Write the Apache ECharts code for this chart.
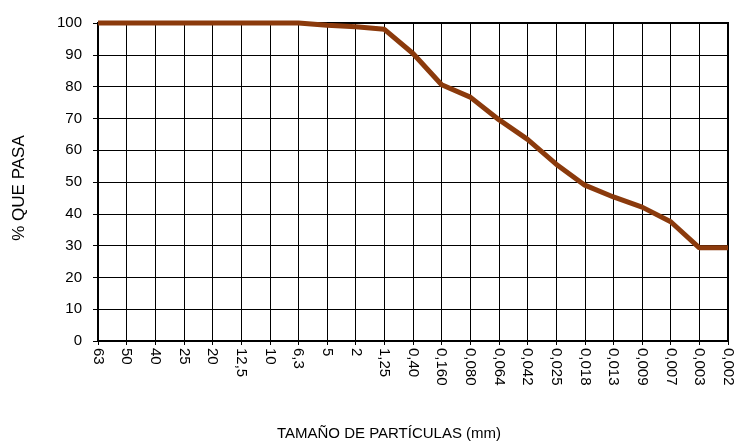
<!DOCTYPE html>
<html>
<head>
<meta charset="utf-8">
<script src="https://cdn.jsdelivr.net/npm/echarts@6/dist/echarts.min.js"></script>
<style>html,body{margin:0;padding:0;background:#fff;}#c{width:736px;height:441px;}</style>
</head>
<body>
<div id="c"></div>
<script>
var categories = ['63','50','40','25','20','12,5','10','6,3','5','2','1,25','0,40','0,160','0,080','0,064','0,042','0,025','0,018','0,013','0,009','0,007','0,003','0,002'];
var passing = [100,100,100,100,100,100,100,100,99.3,98.8,98.0,90.4,80.6,76.7,69.6,63.4,55.6,49.0,45.3,42.1,37.5,29.3,29.3];
var yTicks = [0,10,20,30,40,50,60,70,80,90,100];

var chart = echarts.init(document.getElementById('c'), null, {renderer:'canvas'});
chart.setOption({
  animation: false,
  backgroundColor: '#fff',
  grid: {left: 98, right: 8, top: 23, bottom: 100, outerBoundsMode: 'none', containLabel: false, show: true, borderColor: '#000', borderWidth: 2, backgroundColor: 'transparent'},
  xAxis: {
    type: 'category',
    data: categories,
    boundaryGap: false,
    name: 'TAMAÑO DE PARTÍCULAS (mm)',
    nameLocation: 'middle',
    nameGap: 85,
    nameTextStyle: {fontFamily: 'Liberation Sans', fontSize: 15, color: '#000', padding: [0, 48, 0, 0]},
    axisLine: {lineStyle: {color: '#000', width: 2}},
    axisTick: {show: true, length: 4, lineStyle: {color: '#000', width: 1}},
    splitLine: {show: true, lineStyle: {color: '#000', width: 1}},
    axisLabel: {interval: 0, rotate: -90, margin: 7, fontFamily: 'Liberation Sans', fontSize: 15, color: '#000'}
  },
  yAxis: {
    type: 'value',
    min: yTicks[0],
    max: yTicks[yTicks.length-1],
    interval: 10,
    name: '% QUE PASA',
    nameLocation: 'middle',
    nameGap: 70,
    nameTextStyle: {fontFamily: 'Liberation Sans', fontSize: 17, color: '#000', padding: [0, 12, 0, 0]},
    axisLine: {show: true, lineStyle: {color: '#000', width: 2}},
    axisTick: {show: true, length: 5, lineStyle: {color: '#000', width: 1}},
    splitLine: {show: true, lineStyle: {color: '#000', width: 1}},
    axisLabel: {margin: 16, fontFamily: 'Liberation Sans', fontSize: 15, color: '#000'}
  },
  series: [{
    type: 'line',
    data: passing,
    symbol: 'none',
    z: 5,
    lineStyle: {color: '#8B3A0C', width: 5},
    clip: false
  }]
});
</script>
</body>
</html>
